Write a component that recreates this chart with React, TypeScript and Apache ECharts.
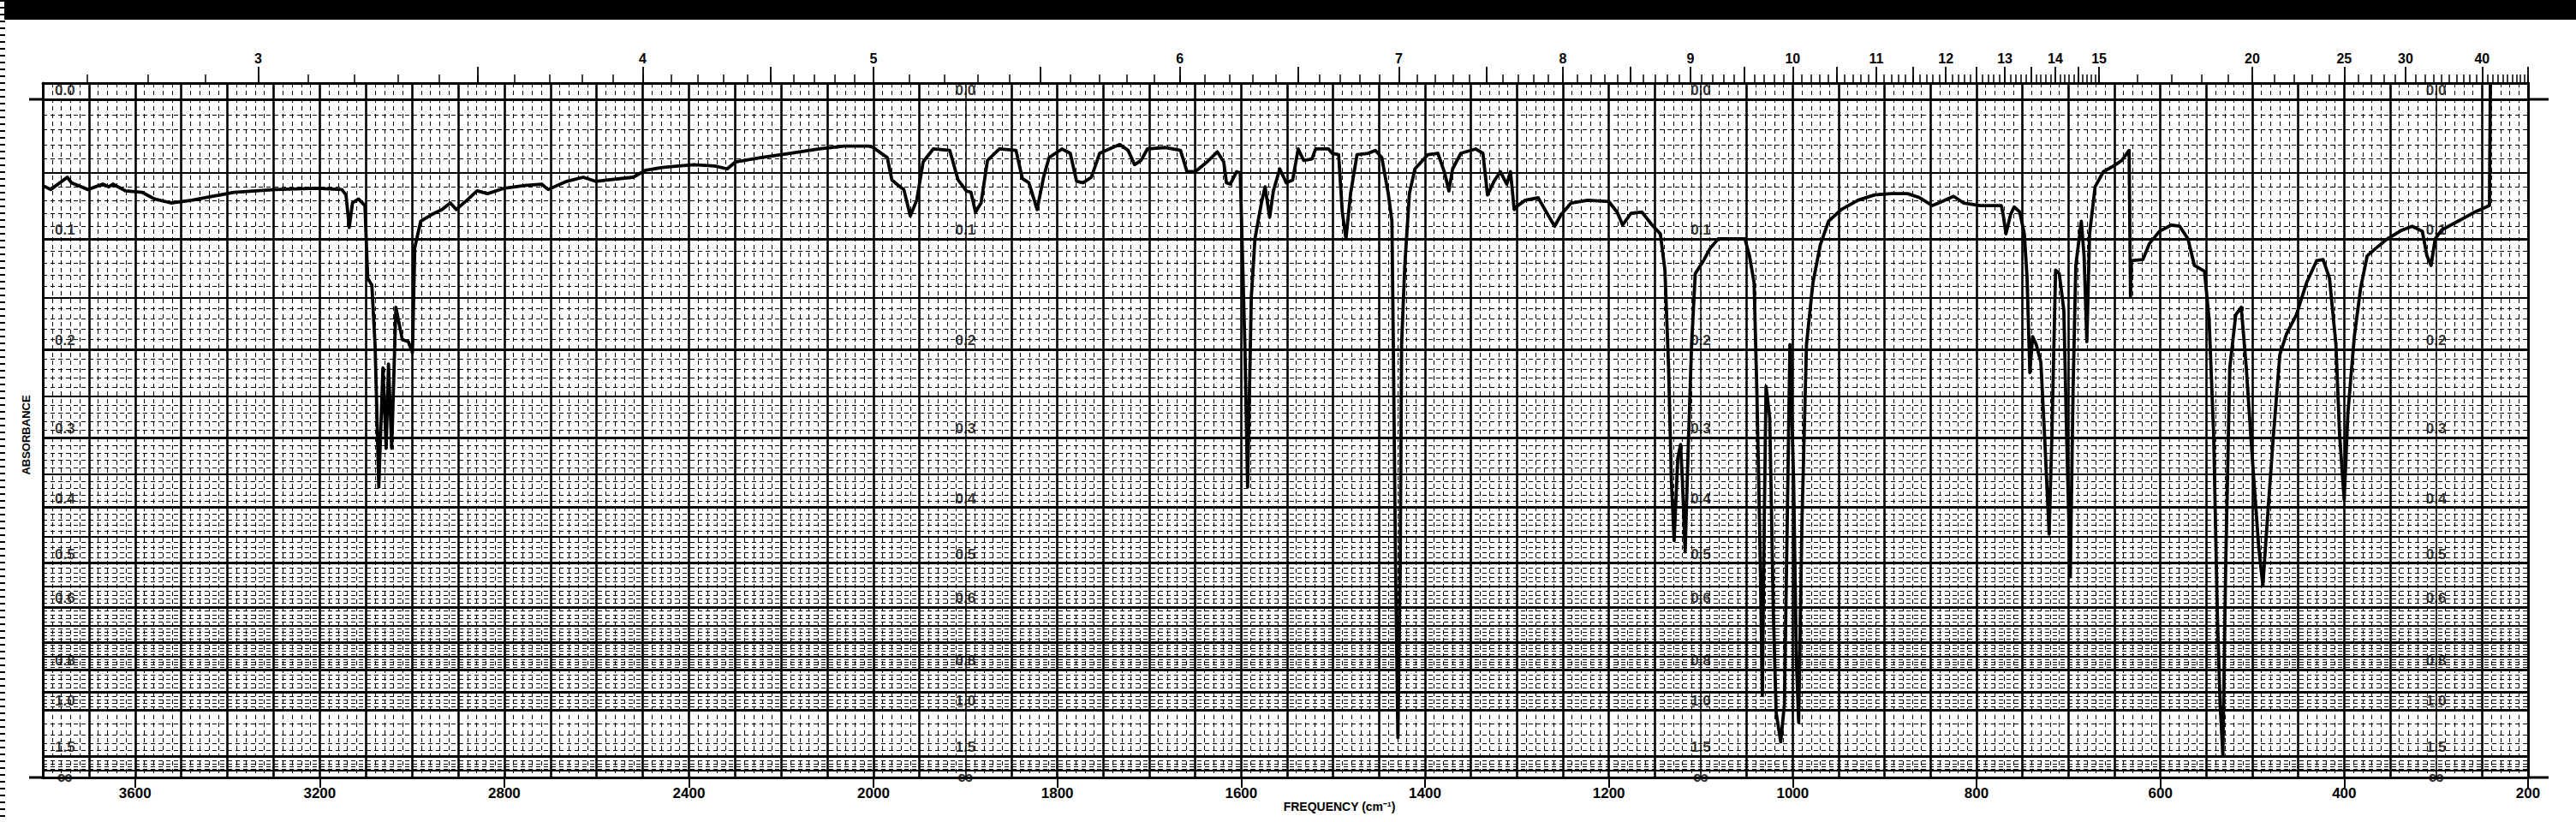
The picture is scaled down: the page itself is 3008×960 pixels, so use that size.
import React, { useEffect, useRef } from "react";
import * as echarts from "echarts";

// spectrum: wavenumber (cm-1) and absorbance
const wavenumber = [
  3800, 3783, 3747, 3738, 3702, 3670, 3657, 3648, 3621, 3585, 3558, 3522, 3477, 3431, 3386, 3296,
  3206, 3152, 3143, 3136, 3129, 3116, 3102, 3096, 3087, 3080, 3072, 3063, 3056, 3051, 3044, 3035,
  3021, 3008, 2999, 2994, 2981, 2958, 2935, 2917, 2904, 2881, 2859, 2836, 2800, 2755, 2719, 2705,
  2665, 2629, 2602, 2575, 2521, 2494, 2458, 2423, 2389, 2344, 2317, 2299, 2245, 2181, 2118, 2064,
  2010, 2000, 1996, 1985, 1980, 1971, 1967, 1960, 1953, 1946, 1935, 1917, 1908, 1899, 1894, 1889,
  1883, 1876, 1863, 1845, 1838, 1831, 1822, 1815, 1809, 1795, 1786, 1779, 1772, 1763, 1754, 1736,
  1732, 1723, 1716, 1709, 1702, 1682, 1666, 1659, 1650, 1637, 1626, 1619, 1616, 1612, 1605, 1601,
  1596, 1593, 1589, 1585, 1578, 1574, 1569, 1565, 1558, 1551, 1544, 1538, 1532, 1523, 1519, 1505,
  1501, 1494, 1490, 1486, 1481, 1474, 1462, 1454, 1447, 1440, 1436, 1434.5, 1432, 1429.5, 1427, 1425.5,
  1422, 1417, 1411, 1397, 1386, 1379, 1374, 1370, 1361, 1345, 1337, 1332, 1325, 1318, 1311, 1307,
  1303, 1299, 1291, 1277, 1268, 1259, 1252, 1241, 1223, 1200, 1191, 1185, 1176, 1164, 1153, 1144,
  1139, 1135, 1132, 1129, 1125, 1122, 1120, 1117, 1114, 1110, 1106, 1097, 1090, 1081, 1065, 1052,
  1047, 1042, 1039, 1036, 1033, 1031, 1029, 1025, 1021, 1018, 1013, 1009, 1006, 1003, 999, 996,
  993.5, 990, 985, 978, 970, 961, 947, 929, 911, 893, 875, 862, 848, 841, 825, 814,
  796, 773, 771, 768, 763, 759, 753, 748, 745, 742, 739, 735, 730, 726, 721, 718,
  714, 710, 705, 702, 698, 695, 692, 686, 683, 680, 677, 671, 662, 651, 642, 634,
  632.5, 631.5, 619, 612, 601, 588, 579, 570, 563, 552, 547, 542, 538, 535, 532, 529,
  524.5, 518, 512, 506.5, 500, 493, 488.5, 484, 477, 470, 463, 452, 441, 430, 423, 416,
  409, 405, 400, 396, 389, 382, 375, 366, 353, 337, 326, 315, 310, 305.5, 301, 294,
  276, 258, 242, 241,
];
const absorbance = [
  0.059, 0.062, 0.053, 0.057, 0.062, 0.058, 0.06, 0.058, 0.063, 0.064, 0.069, 0.072, 0.07, 0.067, 0.064, 0.062,
  0.061, 0.062, 0.066, 0.091, 0.072, 0.069, 0.074, 0.133, 0.139, 0.196, 0.368, 0.219, 0.314, 0.215, 0.314, 0.159,
  0.19, 0.192, 0.203, 0.107, 0.086, 0.081, 0.077, 0.072, 0.077, 0.07, 0.063, 0.065, 0.061, 0.059, 0.058, 0.062,
  0.056, 0.053, 0.056, 0.055, 0.053, 0.048, 0.046, 0.045, 0.044, 0.045, 0.047, 0.042, 0.039, 0.036, 0.033, 0.031,
  0.031, 0.032, 0.034, 0.039, 0.055, 0.06, 0.062, 0.082, 0.07, 0.042, 0.033, 0.034, 0.055, 0.063, 0.064, 0.079,
  0.072, 0.041, 0.033, 0.034, 0.054, 0.057, 0.077, 0.053, 0.039, 0.033, 0.036, 0.056, 0.057, 0.053, 0.036, 0.031,
  0.03, 0.034, 0.044, 0.041, 0.033, 0.032, 0.034, 0.049, 0.049, 0.042, 0.035, 0.042, 0.057, 0.058, 0.049, 0.05,
  0.195, 0.368, 0.15, 0.1, 0.072, 0.06, 0.083, 0.063, 0.047, 0.057, 0.055, 0.033, 0.041, 0.04, 0.033, 0.033,
  0.036, 0.037, 0.079, 0.1, 0.065, 0.037, 0.036, 0.034, 0.039, 0.065, 0.086, 0.195, 0.514, 1.23, 0.514, 0.195,
  0.122, 0.065, 0.047, 0.037, 0.036, 0.049, 0.063, 0.047, 0.036, 0.033, 0.036, 0.066, 0.056, 0.049, 0.058, 0.049,
  0.077, 0.074, 0.07, 0.068, 0.079, 0.09, 0.081, 0.072, 0.07, 0.071, 0.079, 0.089, 0.08, 0.079, 0.089, 0.096,
  0.126, 0.219, 0.358, 0.457, 0.327, 0.309, 0.358, 0.478, 0.327, 0.195, 0.129, 0.118, 0.108, 0.1, 0.1, 0.1,
  0.114, 0.137, 0.244, 0.429, 0.915, 0.429, 0.239, 0.275, 0.619, 1.02, 1.28, 0.965, 0.429, 0.195, 0.358, 0.759,
  1.09, 0.429, 0.195, 0.137, 0.105, 0.086, 0.077, 0.07, 0.066, 0.065, 0.065, 0.068, 0.074, 0.072, 0.067, 0.072,
  0.074, 0.074, 0.081, 0.096, 0.081, 0.075, 0.079, 0.096, 0.133, 0.224, 0.187, 0.195, 0.213, 0.297, 0.445, 0.297,
  0.126, 0.129, 0.162, 0.297, 0.529, 0.244, 0.122, 0.086, 0.114, 0.192, 0.096, 0.06, 0.049, 0.045, 0.041, 0.034,
  0.149, 0.118, 0.117, 0.104, 0.094, 0.089, 0.09, 0.1, 0.122, 0.127, 0.17, 0.297, 0.619, 0.965, 1.49, 0.514,
  0.219, 0.166, 0.159, 0.219, 0.327, 0.469, 0.548, 0.429, 0.297, 0.205, 0.185, 0.166, 0.137, 0.118, 0.117, 0.133,
  0.195, 0.297, 0.388, 0.27, 0.187, 0.141, 0.114, 0.108, 0.1, 0.093, 0.09, 0.094, 0.114, 0.122, 0.1, 0.093,
  0.086, 0.079, 0.074, -0.01,
];

// axis labels
const freqLabelsLeft = [3600, 3200, 2800, 2400];
const freqLabelsRight = [2000, 1800, 1600, 1400, 1200, 1000, 800, 600, 400, 200];
const micronLabels = [3, 4, 5, 6, 7, 8, 9, 10, 11, 12, 13, 14, 15, 20, 25, 30, 40];
const absLabels = ["0.0", "0.1", "0.2", "0.3", "0.4", "0.5", "0.6", "0.8", "1.0", "1.5"];
const labelColumns = [3752, 1900, 1100, 300];

// chart paper rulings (absorbance)
const boldA = [0, 0.1, 0.2, 0.3, 0.4, 0.5, 0.6, 0.7, 0.8, 0.9, 1.0, 1.5];
const mediumA = [0.05, 0.15, 0.25, 0.35, 0.45, 0.55, 0.65, 0.75, 2.0];

const INK = "#000";
const FONT = "'Liberation Sans', Arial, sans-serif";
const T_MAX = 102.4;
const BREAK = 2000;

const toT = (a: number) => 100 * Math.pow(10, -a);

const fineA: number[] = [];
for (let i = 1; i < 80; i++) fineA.push(i / 100);
for (let i = 41; i < 50; i++) fineA.push(i / 50);
for (const a of [1.1, 1.2, 1.3, 1.4, 1.6, 1.7, 1.8, 1.9]) fineA.push(a);

const microShort: number[] = [];
for (let i = 27; i <= 150; i++) microShort.push(10000 / (i / 10));
for (let m = 16; m <= 50; m++) microShort.push(10000 / m);
const microLong: number[] = [];
for (let i = 6; i <= 30; i++) microLong.push(10000 / (i / 2));
for (const m of [20, 25, 30, 40, 50]) microLong.push(10000 / m);

const steps = (from: number, to: number, step: number) => {
  const out: number[] = [];
  for (let v = from; v <= to + 1e-9; v += step) out.push(v);
  return out;
};

const tickFont = { color: INK, fontFamily: FONT, fontWeight: "bold" as const };
const plain = { axisLine: { show: false, onZero: false }, axisLabel: { show: false } };

function xAxesFor(gridIndex: number, min: number, max: number, freqLabels: number[], boldX: number[], fineX: number[], columnX?: number[]) {
  const inRange = (v: number) => v >= min - 1e-6 && v <= max + 1e-6;
  const base = { type: "value", gridIndex, min, max, inverse: true };
  const microText = micronLabels.map((m) => 10000 / m).filter((v) => (gridIndex === 0 ? v > BREAK : v <= BREAK));
  const axes: any[] = [
    {
      ...base,
      position: "bottom",
      axisLine: { show: true, onZero: false, lineStyle: { color: INK, width: 3 } },
      axisTick: { show: true, customValues: freqLabels, length: 12, lineStyle: { color: INK, width: 2 } },
      axisLabel: {
        show: true,
        customValues: freqLabels,
        formatter: (v: number) => String(v),
        margin: 10,
        fontSize: 17,
        ...tickFont,
      },
      splitLine: { show: false },
    },
    {
      ...base,
      position: "top",
      axisLine: { show: true, onZero: false, lineStyle: { color: INK, width: 3 } },
      axisTick: { show: true, customValues: microShort.filter(inRange), length: 10, lineStyle: { color: INK, width: 1.5 } },
      axisLabel: { show: false },
      splitLine: { show: false },
    },
    {
      ...base,
      position: "top",
      axisLine: { show: false, onZero: false },
      axisTick: { show: true, customValues: microLong.filter(inRange), length: 19, lineStyle: { color: INK, width: 1.8 } },
      axisLabel: {
        show: true,
        customValues: microText,
        formatter: (v: number) => String(Math.round(10000 / v)),
        margin: 21,
        fontSize: 16,
        ...tickFont,
      },
      splitLine: { show: false },
    },
    {
      ...base,
      ...plain,
      axisTick: { show: false, customValues: boldX },
      splitLine: { show: true, lineStyle: { color: INK, width: 2.6 } },
    },
    {
      ...base,
      ...plain,
      axisTick: { show: false, customValues: fineX },
      splitLine: { show: true, lineStyle: { color: INK, width: 1, type: [5, 4] } },
    },
  ];
  if (columnX) {
    axes.push({
      ...base,
      ...plain,
      axisTick: { show: false, customValues: columnX },
      splitLine: { show: true, lineStyle: { color: INK, width: 1.5 } },
    });
  }
  return axes;
}

function yAxesFor(gridIndex: number, position: string) {
  const base = { type: "value", gridIndex, min: 0, max: T_MAX, position };
  return [
    {
      ...base,
      axisLine: { show: true, onZero: false, lineStyle: { color: INK, width: 3 } },
      axisTick: { show: false, customValues: boldA.map(toT) },
      axisLabel: { show: false },
      splitLine: { show: true, lineStyle: { color: INK, width: 2.8 } },
    },
    {
      ...base,
      ...plain,
      axisTick: { show: false, customValues: mediumA.map(toT) },
      splitLine: { show: true, lineStyle: { color: INK, width: 2 } },
    },
    {
      ...base,
      ...plain,
      axisTick: { show: false, customValues: fineA.map(toT) },
      splitLine: { show: true, lineStyle: { color: INK, width: 1, type: [5, 4] } },
    },
  ];
}

const columnLabels = (col: number) => [
  ...absLabels.map((t) => ({ value: [col, toT(parseFloat(t))], name: t })),
  { value: [col, 0], name: "\u221e", label: { position: "top", distance: -12, fontSize: 26 } },
];

const App = () => {
  const chartRef = useRef<HTMLDivElement>(null);

  useEffect(() => {
    document.body.style.margin = "0";
    const chart = echarts.init(chartRef.current, null, { renderer: "svg" });

    const points = wavenumber.map((w, i) => [w, toT(absorbance[i])]);
    const leftPts = points.filter((p) => p[0] >= BREAK);
    const rightPts = points.filter((p) => p[0] <= BREAK);

    const boldRight = steps(200, 2000, 50).filter((v) => ![1900, 1100, 300].includes(v));

    const labelSeries = {
      type: "scatter",
      symbolSize: 0,
      silent: true,
      clip: false,
      z: 6,
      label: {
        show: true,
        position: "top",
        distance: 2,
        formatter: "{b}",
        fontSize: 17,
        ...tickFont,
      },
    };
    const lineSeries = {
      type: "line",
      symbol: "none",
      showSymbol: false,
      lineStyle: { color: INK, width: 3.8, join: "round" },
      z: 5,
    };

    const graphic: any[] = [
      { type: "rect", shape: { x: 5, y: 0, width: 3003, height: 23 }, style: { fill: INK } },
      {
        type: "line",
        shape: { x1: 3, y1: 0, x2: 3, y2: 960 },
        style: { stroke: INK, lineWidth: 6, lineDash: [2, 6] },
      },
      {
        type: "text",
        x: 30,
        y: 508,
        rotation: Math.PI / 2,
        style: { text: "ABSORBANCE", fill: INK, font: `bold 13px ${FONT}`, align: "center", verticalAlign: "middle" },
      },
      {
        type: "text",
        x: 1564,
        y: 942,
        style: { text: "FREQUENCY (cm\u207b\u00b9)", fill: INK, font: `bold 14px ${FONT}`, align: "center", verticalAlign: "middle" },
      },
    ];

    chart.setOption({
      animation: false,
      backgroundColor: "#fff",
      grid: [
        { left: 50, top: 97, width: 970, bottom: 52 },
        { left: 1020, top: 97, width: 1932, bottom: 52 },
      ],
      xAxis: [
        ...xAxesFor(0, BREAK, 3800, freqLabelsLeft, steps(2100, 3700, 100), steps(2020, 3780, 20)),
        ...xAxesFor(1, 200, BREAK, freqLabelsRight, boldRight, steps(210, 1990, 10), [1900, 1100, 300]),
      ],
      yAxis: [...yAxesFor(0, "left"), ...yAxesFor(1, "right")],
      series: [
        { ...lineSeries, xAxisIndex: 0, yAxisIndex: 0, data: leftPts },
        { ...lineSeries, xAxisIndex: 5, yAxisIndex: 3, data: rightPts },
        { ...labelSeries, xAxisIndex: 0, yAxisIndex: 0, data: columnLabels(labelColumns[0]) },
        { ...labelSeries, xAxisIndex: 5, yAxisIndex: 3, data: labelColumns.slice(1).flatMap(columnLabels) },
      ],
      graphic,
    });

    // short extensions of the 0.0 and bottom rulings beyond the frame
    const top = chart.convertToPixel({ xAxisIndex: 0, yAxisIndex: 0 }, [3800, toT(0)]) as number[];
    const bottom = chart.convertToPixel({ xAxisIndex: 0, yAxisIndex: 0 }, [3800, 0]) as number[];
    const right = chart.convertToPixel({ xAxisIndex: 5, yAxisIndex: 3 }, [200, 0]) as number[];
    const stub = (x1: number, x2: number, y: number) => ({
      type: "line",
      shape: { x1, y1: y, x2, y2: y },
      style: { stroke: INK, lineWidth: 3 },
    });
    chart.setOption({
      graphic: [
        ...graphic,
        stub(top[0] - 16, top[0], top[1]),
        stub(bottom[0] - 16, bottom[0], bottom[1]),
        stub(right[0], right[0] + 24, top[1]),
        stub(right[0], right[0] + 24, bottom[1]),
      ],
    });

    return () => {
      chart.dispose();
    };
  }, []);

  return <div ref={chartRef} style={{ position: "fixed", left: 0, top: 0, width: "3008px", height: "960px" }}></div>;
};

export default App;
